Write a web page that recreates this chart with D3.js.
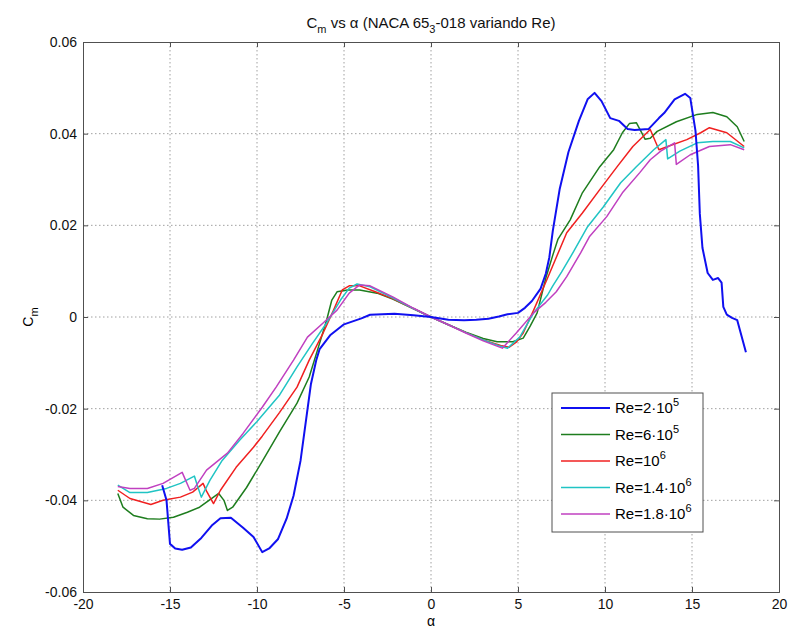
<!DOCTYPE html>
<html>
<head>
<meta charset="utf-8">
<script src="https://cdn.jsdelivr.net/npm/d3@7"></script>
<style>
body { margin: 0; background: #fff; }
svg { display: block; font-family: "Liberation Sans", Arial, sans-serif; }
.grid line { stroke: #a0a0a0; stroke-dasharray: 1.5,2.5; }
.axis path, .axis line { stroke: #505050; }
.axis text { font-size: 14px; fill: #111; }
</style>
</head>
<body>
<div class="container"></div>
<script>
// alpha ticks / cm ticks
var alphaTicks = [-20, -15, -10, -5, 0, 5, 10, 15, 20];
var cmTicks = [-0.06, -0.04, -0.02, 0, 0.02, 0.04, 0.06];

// [alpha, Cm] per Reynolds number
var re2e5 = [[-15.45,-0.0367],[-15.2,-0.040],[-15.0,-0.0495],[-14.7,-0.0505],[-14.3,-0.0508],[-13.8,-0.0503],[-13.2,-0.0482],
  [-12.6,-0.0455],[-12.1,-0.0439],[-11.5,-0.0438],[-10.8,-0.046],[-10.2,-0.048],[-9.7,-0.0513],[-9.3,-0.0505],[-8.8,-0.0485],
  [-8.3,-0.044],[-7.9,-0.039],[-7.5,-0.0314],[-7.2,-0.023],[-6.9,-0.0146],[-6.6,-0.0095],[-6.4,-0.007],[-5.8,-0.004],
  [-5.0,-0.0016],[-4.0,-0.0003],[-3.5,0.0005],[-2.8,0.0006],[-2.1,0.0007],[-1.0,0.0004],[0,0],[1.0,-0.0006],[1.9,-0.0007],
  [2.6,-0.0006],[3.3,-0.0004],[3.9,0.0001],[4.4,0.0006],[5.0,0.0009],[5.4,0.002],[5.8,0.0035],[6.3,0.0062],[6.6,0.0095],
  [6.8,0.013],[7.0,0.0188],[7.4,0.028],[7.9,0.036],[8.5,0.0428],[9.0,0.0475],[9.4,0.0489],[9.8,0.0471],[10.3,0.0434],
  [10.8,0.0428],[11.3,0.041],[11.7,0.0408],[12.5,0.041],[13.1,0.0434],[13.4,0.0445],[14.0,0.0475],[14.6,0.0487],[14.9,0.0478],
  [15.2,0.0406],[15.35,0.033],[15.45,0.0225],[15.6,0.0151],[15.9,0.0096],[16.2,0.0081],[16.5,0.0085],[16.7,0.0075],
  [16.8,0.0022],[17.0,0.0005],[17.3,-0.0002],[17.6,-0.0007],[18.1,-0.0077]];

var re6e5 = [[-18,-0.0385],[-17.7,-0.0415],[-17.1,-0.0433],[-16.3,-0.044],[-15.6,-0.0441],[-14.8,-0.0437],[-14.0,-0.0426],
  [-13.3,-0.0415],[-12.5,-0.0393],[-12.2,-0.0385],[-11.9,-0.040],[-11.7,-0.0422],[-11.4,-0.0415],[-10.6,-0.0372],[-9.7,-0.0315],
  [-8.7,-0.025],[-7.7,-0.0188],[-7.0,-0.0131],[-6.4,-0.0057],[-6.0,-0.0007],[-5.7,0.0037],[-5.4,0.0055],[-4.8,0.0059],
  [-4.1,0.0059],[-3.1,0.0052],[-2.2,0.0039],[-1,0.0018],[0,0],[1,-0.0017],[2,-0.0033],[3,-0.0047],[3.8,-0.0054],[4.7,-0.0054],
  [5.3,-0.0046],[5.7,-0.002],[6.1,0.0009],[6.6,0.0085],[7.0,0.0135],[7.3,0.017],[8.0,0.0212],[8.7,0.0271],[9.7,0.0328],
  [10.5,0.0365],[11.0,0.0402],[11.4,0.0422],[11.8,0.0424],[12.0,0.041],[12.3,0.0388],[12.6,0.039],[13.0,0.0405],
  [14.1,0.0426],[15.3,0.0442],[16.2,0.0446],[17.0,0.0437],[17.6,0.0415],[18.0,0.0383]];

var re1e6 = [[-18,-0.0378],[-17.3,-0.0396],[-16.1,-0.0409],[-15.4,-0.040],[-14.4,-0.0393],[-13.7,-0.0382],[-13.1,-0.0363],
  [-12.9,-0.038],[-12.5,-0.0407],[-12.1,-0.0378],[-11.2,-0.0328],[-10.2,-0.0284],[-9.7,-0.026],[-8.7,-0.0208],[-7.7,-0.0153],
  [-7.0,-0.0094],[-6.2,-0.0035],[-5.6,0.0015],[-5.1,0.0059],[-4.7,0.0068],[-4.1,0.0068],[-3.2,0.0055],[-2.2,0.004],
  [-1,0.0018],[0,0],[1,-0.0017],[2,-0.0034],[3,-0.005],[4,-0.0062],[4.5,-0.0066],[4.9,-0.0055],[5.3,-0.0035],[5.9,0.0015],
  [6.7,0.0085],[7.8,0.0184],[8.7,0.0227],[9.7,0.0278],[10.7,0.0328],[11.6,0.0372],[12.6,0.0409],[13.1,0.0365],[13.6,0.0372],
  [14.7,0.0387],[15.5,0.0402],[16.0,0.0413],[17.0,0.0402],[18.0,0.0372]];

var re14e5 = [[-18,-0.0367],[-17.3,-0.0383],[-16.3,-0.0383],[-15.2,-0.0374],[-14.4,-0.0363],[-13.6,-0.0347],[-13.4,-0.0371],
  [-13.2,-0.0393],[-12.7,-0.0356],[-12.0,-0.0313],[-11.0,-0.0269],[-10.0,-0.0228],[-8.7,-0.017],[-7.7,-0.0109],[-6.8,-0.0057],
  [-6.0,-0.0013],[-5.2,0.0037],[-4.7,0.0063],[-4.25,0.0072],[-3.5,0.0066],[-2.2,0.0042],[-1,0.0018],[0,0],[1,-0.0017],
  [2,-0.0034],[3,-0.005],[4,-0.0064],[4.4,-0.0068],[5.1,-0.0044],[5.9,0.0009],[6.7,0.0048],[7.0,0.0068],[7.5,0.0098],
  [8.2,0.0143],[9.0,0.0197],[9.9,0.024],[10.9,0.0293],[11.8,0.0328],[12.8,0.0365],[13.5,0.0387],[13.6,0.0345],[14.3,0.0362],
  [15.3,0.038],[16.2,0.0383],[17.2,0.0383],[18.0,0.0369]];

var re18e5 = [[-18,-0.037],[-17.3,-0.0374],[-16.3,-0.0374],[-15.4,-0.0363],[-14.3,-0.0339],[-13.85,-0.0378],[-13.6,-0.0374],
  [-12.9,-0.0334],[-11.7,-0.0297],[-10.8,-0.0254],[-9.7,-0.0197],[-8.9,-0.0153],[-7.9,-0.0094],[-7.1,-0.0044],[-6.2,-0.0013],
  [-5.4,0.0015],[-4.7,0.0052],[-4.1,0.007],[-3.5,0.0068],[-2.2,0.0044],[-1,0.0019],[0,0],[1,-0.0017],[2,-0.0035],[3,-0.0052],
  [4.1,-0.0068],[4.9,-0.0035],[5.9,0.0009],[6.6,0.0032],[7.2,0.0055],[7.8,0.0088],[8.6,0.014],[9.1,0.0175],[10.1,0.0219],
  [11.0,0.0271],[12.0,0.0315],[12.6,0.0343],[13.2,0.0362],[14.0,0.038],[14.1,0.0333],[14.9,0.0354],[16.0,0.0372],
  [17.2,0.0376],[18.0,0.0365]];

var seriesNames = [["Re=2\u00b710", "5"], ["Re=6\u00b710", "5"], ["Re=10", "6"], ["Re=1.4\u00b710", "6"], ["Re=1.8\u00b710", "6"]];
var seriesColors = ["#1010f0", "#1e7d1e", "#f02020", "#20c4c4", "#c040c0"];
var seriesData = [re2e5, re6e5, re1e6, re14e5, re18e5];

var SVG_WIDTH = 789, SVG_HEIGHT = 633;
var margin = { left: 83, right: 10, top: 42, bottom: 41 };
var plotW = SVG_WIDTH - margin.left - margin.right;
var plotH = SVG_HEIGHT - margin.top - margin.bottom;

var svg = d3.select(".container").append("svg")
    .attr("width", SVG_WIDTH)
    .attr("height", SVG_HEIGHT);

var g = svg.append("g")
    .attr("transform", "translate(" + margin.left + "," + margin.top + ")");

var x = d3.scaleLinear().domain([-20, 20]).range([0, plotW]);
var y = d3.scaleLinear().domain([-0.06, 0.06]).range([plotH, 0]);

// grid
g.append("g").attr("class", "grid")
    .selectAll("line").data(alphaTicks.slice(1, -1)).enter().append("line")
    .attr("x1", function (d) { return x(d); }).attr("x2", function (d) { return x(d); })
    .attr("y1", 0).attr("y2", plotH);
g.append("g").attr("class", "grid")
    .selectAll("line").data(cmTicks.slice(1, -1)).enter().append("line")
    .attr("y1", function (d) { return y(d); }).attr("y2", function (d) { return y(d); })
    .attr("x1", 0).attr("x2", plotW);

// axes, ticks pointing inward like matlab
var fmtY = function (d) { return d === 0 ? "0" : d.toFixed(2); };
g.append("g").attr("class", "axis")
    .attr("transform", "translate(0," + plotH + ")")
    .call(d3.axisBottom(x).tickValues(alphaTicks).tickSize(-5).tickPadding(7).tickFormat(function (d) { return String(d); }));
g.append("g").attr("class", "axis")
    .call(d3.axisTop(x).tickValues(alphaTicks).tickSize(-5).tickFormat(""));
g.append("g").attr("class", "axis")
    .call(d3.axisLeft(y).tickValues(cmTicks).tickSize(-5).tickPadding(6).tickFormat(fmtY));
g.append("g").attr("class", "axis")
    .attr("transform", "translate(" + plotW + ",0)")
    .call(d3.axisRight(y).tickValues(cmTicks).tickSize(-5).tickFormat(""));

// curves
var line = d3.line()
    .x(function (d) { return x(d[0]); })
    .y(function (d) { return y(d[1]); });

var order = [1, 2, 3, 4, 0];
order.forEach(function (i) {
    g.append("path")
        .datum(seriesData[i])
        .attr("fill", "none")
        .attr("stroke", seriesColors[i])
        .attr("stroke-width", i === 0 ? 2 : 1.5)
        .attr("stroke-linejoin", "round")
        .attr("d", line);
});

// title
var title = svg.append("text")
    .attr("x", margin.left + plotW / 2)
    .attr("y", 28)
    .attr("text-anchor", "middle")
    .style("font-size", "15px")
    .style("fill", "#111");
title.append("tspan").text("C");
title.append("tspan").attr("dy", 5).style("font-size", "11px").text("m");
title.append("tspan").attr("dy", -5).text(" vs \u03b1 (NACA 65");
title.append("tspan").attr("dy", 5).style("font-size", "11px").text("3");
title.append("tspan").attr("dy", -5).text("-018 variando Re)");

// axis labels
svg.append("text")
    .attr("x", margin.left + plotW / 2)
    .attr("y", 626)
    .attr("text-anchor", "middle")
    .style("font-size", "14px")
    .text("\u03b1");

var ylab = svg.append("text")
    .attr("transform", "translate(33," + (margin.top + plotH / 2) + ") rotate(-90)")
    .attr("text-anchor", "middle")
    .style("font-size", "14px");
ylab.append("tspan").text("C");
ylab.append("tspan").attr("dy", 5).style("font-size", "11px").text("m");

// legend
var legend = svg.append("g").attr("transform", "translate(552,393)");
legend.append("rect")
    .attr("width", 151).attr("height", 139)
    .attr("fill", "#fff").attr("stroke", "#505050");
var item = legend.selectAll(".item").data(seriesNames).enter().append("g")
    .attr("transform", function (d, i) { return "translate(0," + (15 + i * 26.5) + ")"; });
item.append("line")
    .attr("x1", 9).attr("x2", 58)
    .attr("stroke", function (d, i) { return seriesColors[i]; })
    .attr("stroke-width", function (d, i) { return i === 0 ? 2 : 1.5; });
var lt = item.append("text").attr("x", 63).attr("y", 5).style("font-size", "15px");
lt.append("tspan").text(function (d) { return d[0]; });
lt.append("tspan").attr("dy", -7).style("font-size", "11px").text(function (d) { return d[1]; });
</script>
</body>
</html>
